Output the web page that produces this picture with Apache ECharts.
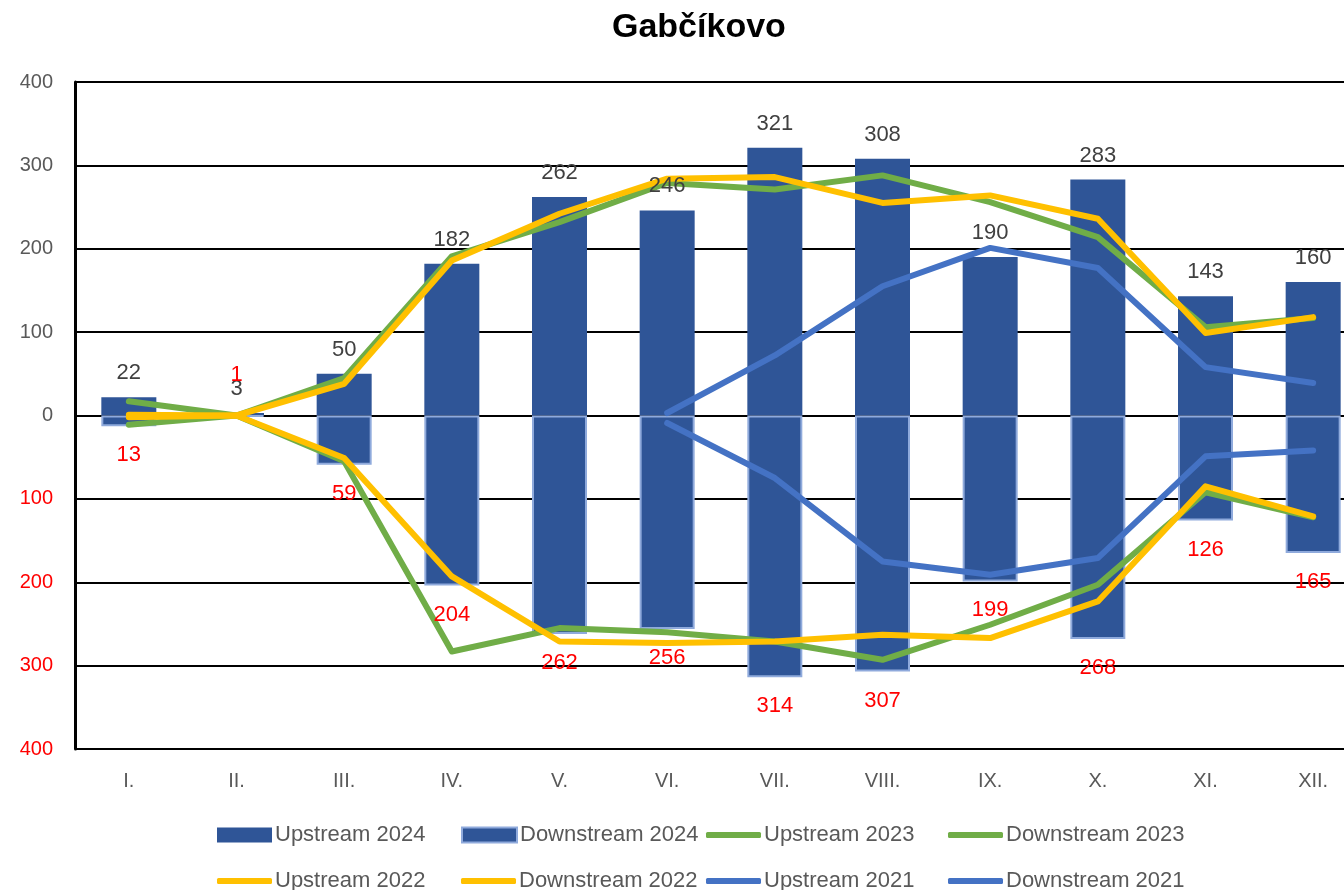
<!DOCTYPE html>
<html>
<head>
<meta charset="utf-8">
<script src="https://cdn.jsdelivr.net/npm/echarts@6/dist/echarts.min.js"></script>
<style>html,body{margin:0;padding:0;background:#fff;overflow:hidden;width:1344px;height:890px}#c{width:1400px;height:890px}</style>
</head>
<body>
<div id="c"></div>
<script>
const categories = ['I.', 'II.', 'III.', 'IV.', 'V.', 'VI.', 'VII.', 'VIII.', 'IX.', 'X.', 'XI.', 'XII.'];
const upstream2024 = [22, 3, 50, 182, 262, 246, 321, 308, 190, 283, 143, 160];
const downstream2024 = [-13, -1, -59, -204, -262, -256, -314, -307, -199, -268, -126, -165];
const upstream2023 = [17, 0, 45, 191, 232, 279, 271, 288, 256, 214, 106, 117];
const downstream2023 = [-11, 0, -55, -283, -255, -260, -271, -293, -251, -203, -92, -122];
const upstream2022 = [1, 0, 38, 186, 242, 284, 286, 255, 264, 236, 99, 118];
const downstream2022 = [-2, 0, -51, -193, -271, -273, -271, -263, -267, -223, -85, -121];
const upstream2021 = [null, null, null, null, null, 3, 72, 155, 201, 177, 58, 39];
const downstream2021 = [null, null, null, null, null, -9, -75, -175, -191, -171, -49, -42];
const yTicks = [-400, -300, -200, -100, 0, 100, 200, 300, 400];

const FONT = 'Liberation Sans';
const BAR = '#2F5597';
const GREEN = '#70AD47', YELLOW = '#FFC000', BLUE = '#4472C4';

const downData = downstream2024.map((v, i) => i === 1
  ? { value: v, label: { position: 'top', distance: 30 } }
  : v);

function lineSeries(name, data, color) {
  return {
    name, type: 'line', data, symbol: 'none', smooth: false,
    connectNulls: false,
    lineStyle: { color, width: 6, join: 'round', cap: 'round' },
    itemStyle: { color },
    z: 3
  };
}

const legendItems = [
  { name: 'Upstream 2024', x: 212, y: 819, bar: true },
  { name: 'Downstream 2024', x: 456, y: 819, bar: true, border: true },
  { name: 'Upstream 2023', x: 701, y: 819 },
  { name: 'Downstream 2023', x: 943, y: 819 },
  { name: 'Upstream 2022', x: 212, y: 865 },
  { name: 'Downstream 2022', x: 456, y: 865 },
  { name: 'Upstream 2021', x: 701, y: 865 },
  { name: 'Downstream 2021', x: 943, y: 865 }
];

const upLabel = { show: true, position: 'top', distance: 13, fontFamily: FONT, fontSize: 22, color: '#404040' };
const downLabel = {
  show: true, position: 'bottom', distance: 18, fontFamily: FONT, fontSize: 22, color: '#FF0000',
  formatter: p => String(Math.abs(p.value))
};

const option = {
  animation: false,
  backgroundColor: '#ffffff',
  title: {
    text: 'Gabčíkovo', left: 607, top: 6,
    textStyle: { fontFamily: FONT, fontWeight: 'bold', fontSize: 34, color: '#000' }
  },
  legend: legendItems.map(it => ({
    data: [it.name], left: it.x, top: it.y,
    itemWidth: 55, itemHeight: it.bar ? 15 : 6,
    icon: it.bar ? 'rect' : 'roundRect',
    itemGap: 0,
    textStyle: { fontFamily: FONT, fontSize: 22, color: '#595959', padding: [0, 0, 0, -2] }
  })),
  grid: { left: 75, top: 82, width: 1292, height: 667 },
  xAxis: {
    type: 'category', data: categories, boundaryGap: true,
    axisLine: { show: false, onZero: false },
    axisTick: { show: false },
    axisLabel: { fontFamily: FONT, fontSize: 20, color: '#595959', margin: 22 },
    splitLine: { show: false }
  },
  yAxis: {
    type: 'value', min: -400, max: 400, interval: 100,
    axisLine: { show: true, lineStyle: { color: '#000', width: 3 } },
    axisTick: { show: false },
    splitLine: { show: true, lineStyle: { color: '#000', width: 2 } },
    axisLabel: {
      fontFamily: FONT, fontSize: 20, margin: 22,
      formatter: v => String(Math.abs(v)),
      color: v => (Number(v) < 0 ? '#FF0000' : '#595959')
    }
  },
  series: [
    {
      name: 'Upstream 2024', type: 'bar', data: upstream2024, barWidth: 55, barGap: '-100%',
      itemStyle: { color: BAR }, z: 2
    },
    {
      name: 'Downstream 2024', type: 'bar', data: downstream2024, barWidth: 55, barGap: '-100%',
      itemStyle: { color: BAR, borderColor: '#8FAADC', borderWidth: 2 }, z: 2
    },
    lineSeries('Upstream 2023', upstream2023, GREEN),
    lineSeries('Downstream 2023', downstream2023, GREEN),
    lineSeries('Upstream 2022', upstream2022, YELLOW),
    lineSeries('Downstream 2022', downstream2022, YELLOW),
    lineSeries('Upstream 2021', upstream2021, BLUE),
    lineSeries('Downstream 2021', downstream2021, BLUE),
    {
      name: 'labels-up', type: 'bar', data: upstream2024, barWidth: 55, barGap: '-100%',
      itemStyle: { color: 'rgba(0,0,0,0)' }, label: upLabel, silent: true, z: 5
    },
    {
      name: 'labels-down', type: 'bar', data: downData, barWidth: 55, barGap: '-100%',
      itemStyle: { color: 'rgba(0,0,0,0)' }, label: downLabel, silent: true, z: 5
    }
  ]
};

const chart = echarts.init(document.getElementById('c'), null, { renderer: 'canvas' });
chart.setOption(option);
</script>
</body>
</html>
